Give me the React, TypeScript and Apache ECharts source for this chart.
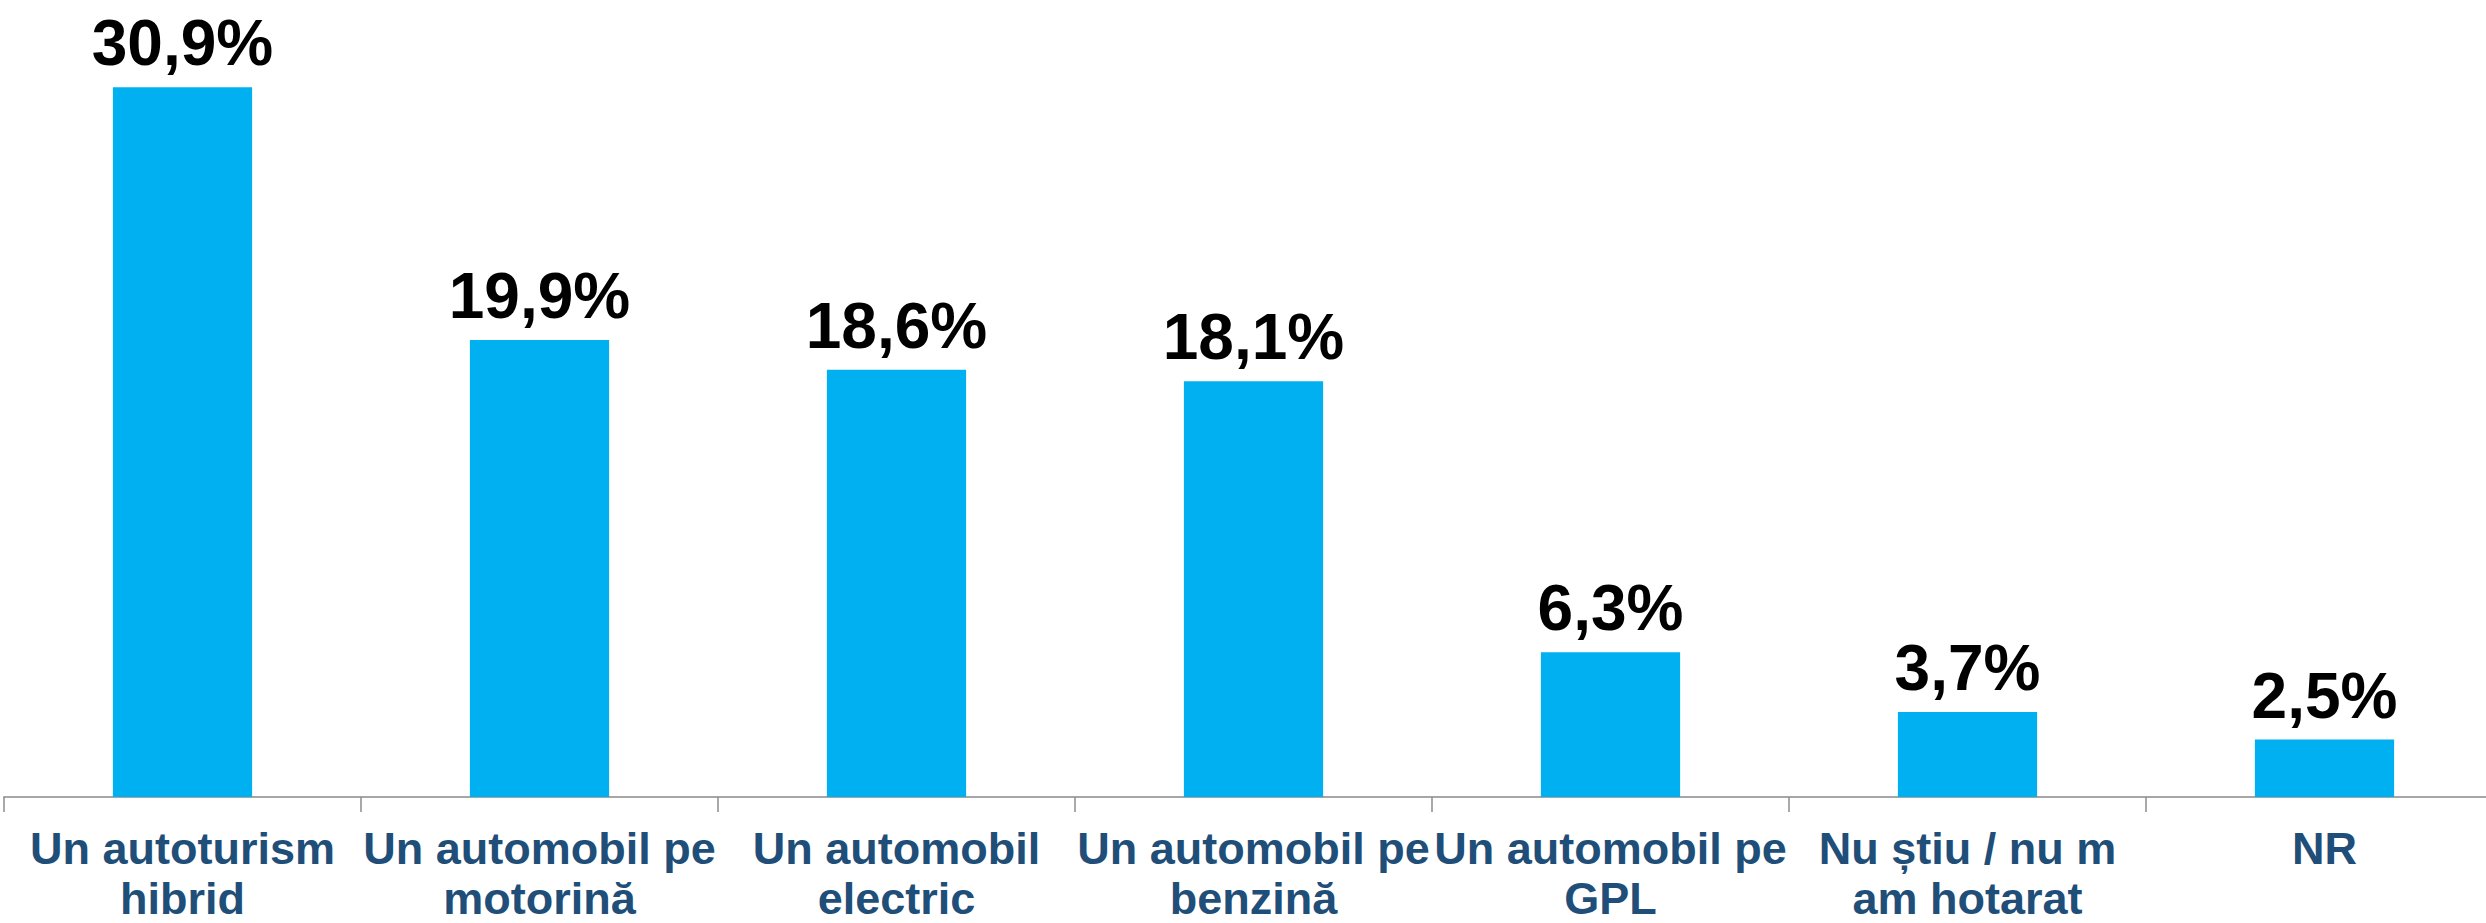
import React, { useEffect, useRef } from "react";
import * as echarts from "echarts";

const categories = [
  "Un autoturism\nhibrid",
  "Un automobil pe\nmotorină",
  "Un automobil\nelectric",
  "Un automobil pe\nbenzină",
  "Un automobil pe\nGPL",
  "Nu știu / nu m\nam hotarat",
  "NR",
];
const values = [30.9, 19.9, 18.6, 18.1, 6.3, 3.7, 2.5];

export default function App() {
  const ref = useRef<HTMLDivElement>(null);
  useEffect(() => {
    if (!ref.current) return;
    const chart = echarts.init(ref.current, null, { renderer: "svg" });
    chart.setOption({
      animation: false,
      backgroundColor: "#ffffff",
      grid: {
        left: 4,
        right: -17,
        top: 62,
        bottom: 126,
        containLabel: false,
        outerBoundsMode: "none",
      },
      xAxis: {
        type: "category",
        data: categories,
        axisLine: { show: true, lineStyle: { color: "#a6a6a6", width: 2 } },
        axisTick: { show: true, length: 15, lineStyle: { color: "#8c8c8c", width: 1.5 } },
        axisLabel: {
          interval: 0,
          margin: 26,
          color: "#1F4E79",
          fontFamily: "Liberation Sans, Arial, sans-serif",
          fontWeight: "bold",
          fontSize: 45,
          lineHeight: 50,
        },
      },
      yAxis: { type: "value", min: 0, max: 32, show: false, splitLine: { show: false } },
      series: [
        {
          type: "bar",
          data: values,
          barWidth: "39%",
          itemStyle: { color: "#00B0F0" },
          label: {
            show: true,
            position: "top",
            distance: 12,
            color: "#000000",
            fontFamily: "Liberation Sans, Arial, sans-serif",
            fontWeight: "bold",
            fontSize: 64,
            formatter: (p: any) => String(p.value).replace(".", ",") + "%",
          },
        },
      ],
    });
    return () => chart.dispose();
  }, []);
  return (
    <div
      ref={ref}
      style={{ position: "fixed", left: 0, top: 0, width: 2486, height: 923 }}
    />
  );
}
